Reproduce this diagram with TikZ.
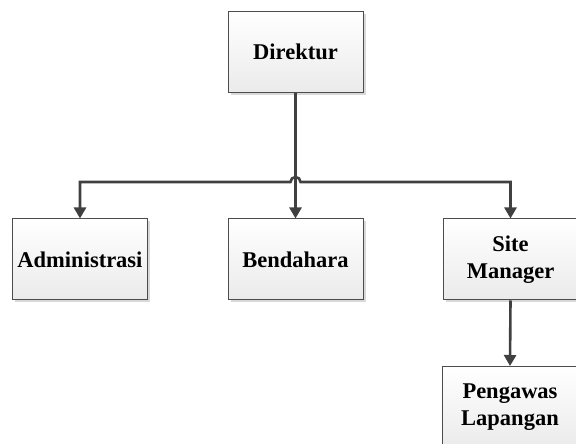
\documentclass[tikz,border=0pt]{standalone}
\usepackage{fontspec}
\setmainfont{Liberation Serif}
\usetikzlibrary{shadows,arrows.meta}
\begin{document}
\begin{tikzpicture}[x=1pt,y=1pt,
  box/.style={draw=black!70, line width=1pt, top color=white, bottom color=black!8,
    minimum width=135pt, minimum height=81pt, inner sep=0pt, align=center,
    font=\fontsize{22.5}{27}\selectfont\bfseries,
    drop shadow={shadow xshift=2.5pt, shadow yshift=-2.5pt, fill=black!25, opacity=0.6}},
  conn/.style={draw=black!75, line width=2.6pt,
    -{Triangle[length=11pt,width=12pt]}}]
\useasboundingbox (0,0) rectangle (576,444);
\clip (0,0) rectangle (576,444);
\node[box] (dir) at (295.5,392) {Direktur};
\node[box] (adm) at (80,184.5) {Administrasi};
\node[box] (ben) at (295.5,184.5) {Bendahara};
\node[box] (sm) at (510.5,184.5) {Site\\Manager};
\node[box] (pl) at (510,37) {Pengawas\\Lapangan};
\coordinate (hopL) at (290.5,262);
\coordinate (hopR) at (300.5,262);
\draw[conn] (dir.south) -- (ben.north);
\draw[conn, {Triangle[length=11pt,width=12pt]}-{Triangle[length=11pt,width=12pt]}]
  (adm.north) |- (hopL) arc[start angle=180, end angle=0, radius=5] -- (hopR) -| (sm.north);
\draw[conn] (sm.south) -- (pl.north);
\end{tikzpicture}
\end{document}
